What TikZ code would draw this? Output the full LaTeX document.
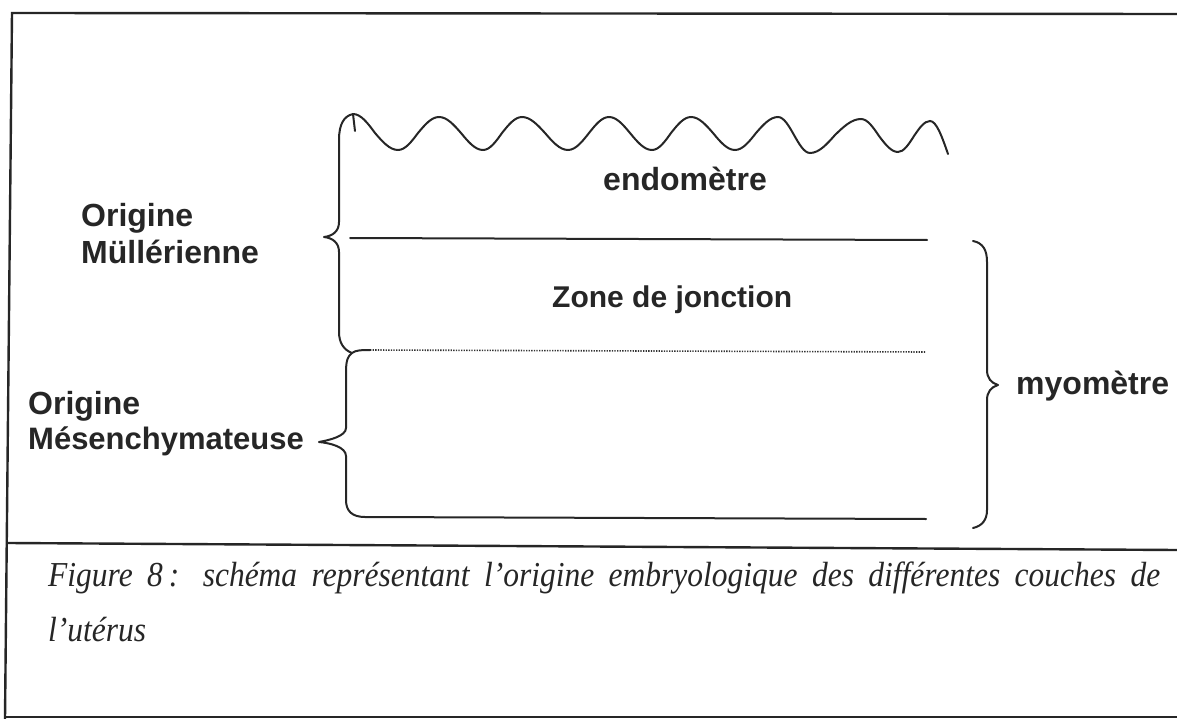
\documentclass[tikz,border=0pt]{standalone}
\usepackage{fontspec}
\setmainfont{Liberation Serif}
\newfontfamily\labfont{Liberation Sans}
\newfontfamily\capfont[FakeStretch=0.9]{Liberation Serif}
\begin{document}
\begin{tikzpicture}[x=1pt,y=-1pt,
  frameline/.style={line width=2.4pt,black!85},
  layer/.style={line width=2pt,black!85,line cap=round},
  brace/.style={line width=2pt,black!85,line cap=round,line join=round},
  dotline/.style={line width=1.6pt,black!80,dash pattern=on 1.3pt off 1.3pt},
  lab/.style={font=\labfont\bfseries\fontsize{32}{38}\selectfont,text=black!85,inner sep=0pt,anchor=base west},
  captxt/.style={font=\capfont\itshape\fontsize{35}{40}\selectfont,text=black!85,inner sep=0pt,anchor=base west}]
\useasboundingbox (0,0) rectangle (1177,719);
% frame
\coordinate (ftl) at (12,13);
\coordinate (ftr) at (1177,14);
\coordinate (fbl) at (5,719);
\coordinate (fsl) at (8,543);
\coordinate (fsr) at (1177,550);
\coordinate (fbl2) at (5,717);
\coordinate (fbr) at (1177,717);
\draw[frameline] (ftr) -- (ftl) -- (fbl);
\draw[frameline] (fsl) -- (fsr);
\draw[frameline] (fbl2) -- (fbr);
% wavy surface of endometrium
\coordinate (w0) at (353,114);
\draw[layer] (w0) cos (375,133) sin (398,150) cos (418,133) sin (439,117)
  cos (461,133) sin (483,150) cos (502,133) sin (522,117)
  cos (545,133) sin (568,150) cos (589,133) sin (609,117)
  cos (630,133) sin (652,150) cos (671,133) sin (691,117)
  cos (713,133) sin (735,150) cos (756,133) sin (778,117)
  cos (794,135) sin (810,153) cos (835,135) sin (861,119)
  cos (879,136) sin (898,152) cos (914,136) sin (930,121) cos (948,154);
% layer lines
\coordinate (s1) at (350,238);
\coordinate (e1) at (927,240);
\draw[layer] (s1) -- (e1);
\coordinate (s2) at (370,350);
\coordinate (e2) at (925,352);
\draw[dotline] (s2) -- (e2);
\coordinate (s3) at (365,517);
\coordinate (e3) at (926,519);
\draw[layer] (s3) -- (e3);
% upper left brace (Mullerian)
\coordinate (j) at (352,353);
\draw[brace] (355,131) -- (w0) .. controls (344,116) and (339,124) .. (339,140)
  -- (339,222) .. controls (339,231) and (333,236) .. (324,237)
  .. controls (333,238) and (339,243) .. (339,252)
  -- (339,332) .. controls (339,343) and (344,350) .. (j)
  .. controls (356,350) and (362,350) .. (s2);
% lower left brace (mesenchymal)
\draw[brace] (j) .. controls (348,356) and (346,360) .. (346,372)
  -- (346,428) .. controls (346,436) and (330,440) .. (319,442)
  .. controls (330,443) and (346,447) .. (346,456)
  -- (346,500) .. controls (346,511) and (352,517) .. (s3);
% right brace (myometrium)
\draw[brace] (973,241) .. controls (983,243) and (987,250) .. (987,262)
  -- (987,370) .. controls (987,378) and (991,383) .. (998,385)
  .. controls (991,387) and (987,392) .. (987,400)
  -- (987,510) .. controls (987,520) and (982,526) .. (973,528);
% labels
\node[lab] (endo) at (603,191) {endomètre};
\node[lab,font=\labfont\bfseries\fontsize{30}{36}\selectfont] (zone) at (552,307) {Zone de jonction};
\node[lab] (myo) at (1016,394) {myomètre};
\node[lab] (om1) at (81,227) {Origine};
\node[lab] (om2) at (81,263) {Müllérienne};
\node[lab] (oe1) at (28,414) {Origine};
\node[lab,font=\labfont\bfseries\fontsize{31}{37}\selectfont] (oe2) at (28,449) {Mésenchymateuse};
% caption
\node[captxt] (cap1) at (48,586) {\makebox[1112pt][s]{Figure 8\,: schéma représentant l’origine embryologique des différentes couches de}};
\node[captxt] (cap2) at (48,641) {l’utérus};
\end{tikzpicture}
\end{document}
